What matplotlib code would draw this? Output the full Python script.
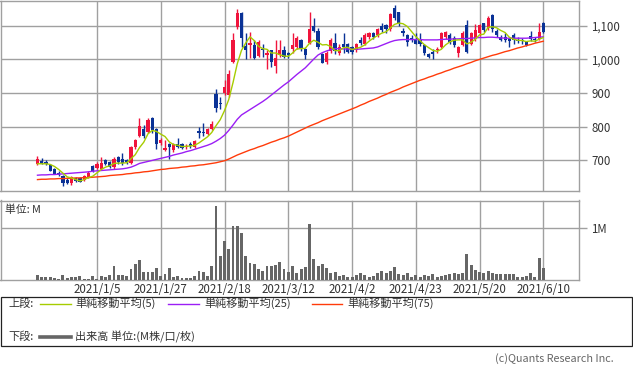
import matplotlib
matplotlib.use("Agg")
import matplotlib.pyplot as plt
from matplotlib.patches import Rectangle
from matplotlib.lines import Line2D
import numpy as np

plt.rcParams['font.family'] = ['Noto Sans CJK JP', 'DejaVu Sans']

# ---------------- data ----------------
date_labels = ["2021/1/5", "2021/1/27", "2021/2/18", "2021/3/12",
               "2021/4/2", "2021/4/23", "2021/5/20", "2021/6/10"]
date_idx = [14, 29, 44, 59, 74, 89, 104, 119]
price_ticks = [700, 800, 900, 1000, 1100]
price_labels = ["700", "800", "900", "1,000", "1,100"]

opens = [689, 699, 696, 687, 674, 663, 653, 641, 632, 648,
         649, 641, 651, 683, 676, 674, 701, 695, 681, 709,
         705, 700, 693, 739, 772, 792, 785, 825, 792, 752,
         731, 748, 731, 750, 748, 739, 749, 741, 786, 784,
         778, 792, 897, 871, 899, 894, 993, 1097, 1138, 1040,
         1044, 1042, 1010, 1032, 1013, 1027, 980, 1013, 1027, 1018,
         1032, 1037, 1057, 1030, 1049, 1099, 1085, 1015, 991, 1026,
         1050, 1018, 1047, 1047, 1037, 1027, 1057, 1047, 1067, 1077,
         1072, 1099, 1101, 1089, 1154, 1141, 1085, 1072, 1065, 1059,
         1057, 1042, 1015, 1022, 1027, 1037, 1067, 1072, 1065, 1018,
         1042, 1101, 1047, 1062, 1077, 1107, 1092, 1131, 1085, 1067,
         1067, 1062, 1072, 1059, 1059, 1052, 1069, 1062, 1062, 1107]
highs = [713, 706, 701, 690, 678, 668, 657, 649, 655, 652,
         652, 657, 668, 685, 695, 710, 705, 699, 711, 713,
         721, 704, 743, 765, 827, 805, 825, 830, 795, 766,
         762, 752, 752, 768, 752, 750, 755, 760, 800, 811,
         797, 817, 911, 887, 939, 970, 1077, 1151, 1140, 1079,
         1082, 1059, 1057, 1047, 1027, 1028, 1059, 1059, 1040, 1022,
         1077, 1070, 1062, 1035, 1141, 1122, 1092, 1018, 1025, 1064,
         1078, 1045, 1079, 1050, 1040, 1050, 1067, 1077, 1080, 1082,
         1094, 1107, 1105, 1137, 1161, 1141, 1092, 1075, 1072, 1077,
         1077, 1045, 1018, 1030, 1037, 1080, 1084, 1079, 1070, 1040,
         1085, 1117, 1082, 1104, 1105, 1109, 1128, 1134, 1090, 1072,
         1077, 1065, 1077, 1067, 1065, 1055, 1085, 1067, 1109, 1112]
lows = [686, 688, 686, 668, 659, 653, 625, 630, 628, 636,
        635, 638, 648, 666, 673, 672, 685, 678, 673, 689,
        685, 690, 690, 735, 770, 768, 782, 782, 733, 745,
        728, 703, 726, 737, 735, 735, 737, 738, 768, 772,
        774, 789, 844, 854, 894, 889, 988, 1089, 1037, 1000,
        1003, 1000, 1008, 1008, 973, 978, 960, 1008, 1003, 1003,
        1018, 1030, 1025, 1000, 1047, 1082, 1030, 988, 987, 1018,
        1015, 1013, 1018, 1018, 1015, 1022, 1042, 1042, 1062, 1060,
        1067, 1082, 1077, 1085, 1117, 1100, 1070, 1040, 1052, 1045,
        1040, 1013, 1003, 1000, 1020, 1035, 1060, 1047, 1037, 1008,
        1040, 1018, 1042, 1055, 1070, 1080, 1087, 1080, 1068, 1055,
        1052, 1037, 1047, 1050, 1047, 1040, 1055, 1052, 1057, 1077]
closes = [704, 689, 689, 669, 661, 657, 634, 634, 652, 639,
          637, 654, 664, 669, 689, 691, 689, 681, 704, 696,
          691, 694, 740, 762, 802, 772, 820, 790, 748, 760,
          738, 740, 748, 741, 738, 744, 742, 758, 780, 780,
          792, 807, 857, 867, 917, 956, 1057, 1138, 1065, 1027,
          1049, 1003, 1052, 1027, 1018, 993, 1005, 1027, 1008, 1013,
          1042, 1065, 1032, 1013, 1089, 1085, 1037, 990, 1018, 1059,
          1025, 1037, 1037, 1022, 1022, 1047, 1050, 1072, 1077, 1067,
          1089, 1087, 1089, 1134, 1122, 1107, 1077, 1052, 1059, 1047,
          1045, 1018, 1008, 1015, 1032, 1077, 1082, 1052, 1042, 1037,
          1077, 1022, 1077, 1087, 1102, 1087, 1122, 1089, 1072, 1059,
          1057, 1055, 1059, 1055, 1055, 1042, 1062, 1057, 1082, 1080]
ma5 = [690, 690, 690, 688, 682, 673, 662, 651, 648, 643,
       639, 643, 649, 653, 663, 673, 680, 684, 691, 692,
       692, 693, 705, 717, 738, 754, 779, 789, 786, 778,
       771, 755, 747, 745, 741, 742, 743, 745, 752, 761,
       770, 783, 803, 821, 848, 881, 931, 987, 1027, 1049,
       1067, 1056, 1039, 1032, 1030, 1019, 1019, 1014, 1010, 1009,
       1019, 1031, 1032, 1033, 1048, 1057, 1051, 1043, 1044, 1038,
       1026, 1026, 1035, 1036, 1029, 1033, 1036, 1043, 1054, 1063,
       1071, 1078, 1082, 1093, 1104, 1108, 1106, 1098, 1083, 1068,
       1056, 1044, 1035, 1027, 1024, 1030, 1043, 1052, 1057, 1058,
       1058, 1046, 1051, 1060, 1073, 1075, 1095, 1097, 1094, 1086,
       1080, 1066, 1060, 1057, 1056, 1053, 1055, 1054, 1060, 1065]
ma25 = [656, 657, 657, 658, 658, 659, 660, 661, 662, 663,
        664, 665, 666, 668, 669, 670, 671, 672, 673, 674,
        675, 677, 680, 685, 691, 694, 697, 700, 703, 706,
        709, 712, 716, 719, 722, 726, 729, 733, 737, 741,
        745, 750, 757, 765, 775, 789, 805, 822, 835, 843,
        851, 859, 867, 875, 884, 894, 904, 914, 924, 933,
        944, 955, 965, 975, 988, 1001, 1013, 1020, 1025, 1029,
        1032, 1032, 1031, 1031, 1030, 1030, 1031, 1032, 1033, 1034,
        1037, 1042, 1047, 1052, 1056, 1058, 1059, 1059, 1059, 1059,
        1059, 1058, 1058, 1058, 1058, 1059, 1060, 1060, 1061, 1061,
        1062, 1062, 1063, 1064, 1065, 1065, 1066, 1066, 1065, 1064,
        1063, 1063, 1063, 1063, 1063, 1063, 1064, 1065, 1066, 1067]
ma75 = [643, 644, 644, 645, 645, 646, 646, 647, 647, 648,
        648, 649, 649, 650, 651, 652, 653, 655, 656, 657,
        658, 660, 661, 663, 664, 666, 667, 669, 671, 673,
        674, 676, 677, 678, 680, 681, 683, 684, 686, 687,
        689, 691, 693, 696, 699, 704, 710, 716, 721, 726,
        731, 735, 740, 744, 749, 754, 758, 763, 767, 772,
        778, 784, 790, 796, 802, 807, 812, 818, 823, 828,
        833, 838, 843, 848, 853, 858, 864, 869, 875, 880,
        885, 891, 896, 902, 907, 912, 918, 923, 928, 933,
        938, 942, 947, 951, 956, 960, 965, 969, 974, 978,
        982, 987, 991, 996, 1000, 1004, 1008, 1012, 1015, 1019,
        1023, 1026, 1030, 1034, 1037, 1041, 1044, 1048, 1051, 1054]
volume_m = [0.10, 0.065, 0.065, 0.06, 0.04, 0.03, 0.10, 0.05, 0.06, 0.06,
            0.08, 0.03, 0.03, 0.08, 0.03, 0.08, 0.065, 0.10, 0.27, 0.10,
            0.10, 0.08, 0.22, 0.31, 0.38, 0.16, 0.16, 0.16, 0.23, 0.085,
            0.12, 0.23, 0.065, 0.08, 0.04, 0.04, 0.04, 0.08, 0.17, 0.16,
            0.085, 0.27, 1.42, 0.47, 0.74, 0.60, 1.03, 1.03, 0.90, 0.47,
            0.33, 0.31, 0.22, 0.18, 0.27, 0.27, 0.29, 0.35, 0.22, 0.155,
            0.27, 0.14, 0.21, 0.25, 1.07, 0.41, 0.27, 0.31, 0.23, 0.14,
            0.155, 0.08, 0.10, 0.06, 0.06, 0.10, 0.14, 0.10, 0.065, 0.08,
            0.14, 0.175, 0.14, 0.175, 0.25, 0.12, 0.10, 0.14, 0.06, 0.10,
            0.06, 0.10, 0.08, 0.12, 0.06, 0.08, 0.10, 0.12, 0.14, 0.12,
            0.14, 0.51, 0.29, 0.19, 0.155, 0.14, 0.175, 0.14, 0.12, 0.12,
            0.12, 0.12, 0.12, 0.06, 0.06, 0.08, 0.14, 0.06, 0.43, 0.23]

legend_top = ["単純移動平均(5)", "単純移動平均(25)", "単純移動平均(75)"]
legend_bottom = "出来高 単位:(M株/口/枚)"

# ---------------- style ----------------
UP = "#f0143c"
DOWN = "#0a3296"
C_MA5 = "#a6cc00"
C_MA25 = "#9b1ef5"
C_MA75 = "#ff3b0a"
GRID = "#a0a0a0"
TXT = "#333333"

W, H = 633, 371
fig = plt.figure(figsize=(W / 100, H / 100), dpi=100)

def fx(px):
    return px / W

def fy(py):
    return 1 - py / H

ax = fig.add_axes([fx(0.5), fy(190.7), fx(578.5), (190.7 - 0.5) / H])
axv = fig.add_axes([fx(0.5), fy(280.3), fx(578.5), (280.3 - 200.5) / H])

n = len(closes)
x = np.arange(n)
o = np.array(opens, float)
c = np.array(closes, float)
hi = np.array(highs, float)
lo = np.array(lows, float)
up = c >= o
cols = np.where(up, UP, DOWN)

# wicks and bodies
ax.vlines(x, lo, hi, colors=cols, linewidth=1.0, zorder=3)
body_bot = np.minimum(o, c)
body_h = np.maximum(np.abs(c - o), 1.5)
ax.bar(x, body_h, bottom=body_bot, width=0.72, color=cols, linewidth=0, zorder=4)

ax.plot(x, ma75, color=C_MA75, lw=1.0, zorder=5)
ax.plot(x, ma25, color=C_MA25, lw=1.0, zorder=5)
ax.plot(x, ma5, color=C_MA5, lw=1.0, zorder=6)

xlim = (-8.7, 127.4)
ax.set_xlim(*xlim)
ax.set_ylim(610, 1175)
ax.set_xticks(date_idx)
ax.set_xticklabels([])
ax.tick_params(axis='x', length=0)
ax.yaxis.tick_right()
ax.set_yticks(price_ticks)
ax.set_yticklabels(price_labels)
ax.tick_params(axis='y', length=6, width=1, color=GRID, labelsize=8.3,
               labelcolor=TXT, pad=3)
ax.grid(True, color=GRID, lw=1.0, zorder=0)
for s in ax.spines.values():
    s.set_color(GRID)
    s.set_linewidth(1.0)

# volume
axv.bar(x, volume_m, width=0.7, color="#666666", linewidth=0, zorder=3)
axv.set_xlim(*xlim)
axv.set_ylim(0, 1.52)
axv.set_xticks(date_idx)
axv.set_xticklabels(date_labels)
axv.tick_params(axis='x', length=0, labelsize=8.3, labelcolor=TXT, pad=2)
axv.yaxis.tick_right()
axv.set_yticks([1.0])
axv.set_yticklabels(["1M"])
axv.tick_params(axis='y', length=6, width=1, color=GRID, labelsize=8.3,
                labelcolor=TXT, pad=3)
axv.grid(True, color=GRID, lw=1.0, zorder=0)
for s in axv.spines.values():
    s.set_color(GRID)
    s.set_linewidth(1.0)
axv.text(0.008, 0.88, "単位: M", transform=axv.transAxes, fontsize=7.8,
         color=TXT, va="center", ha="left")

# legend box
fig.add_artist(Rectangle((fx(0.5), fy(346)), fx(631.5), (346 - 297) / H,
                         transform=fig.transFigure, fill=False,
                         edgecolor="#222222", lw=0.9))
r1 = 303.5
r2 = 336.5
fs = 8.0
fig.text(fx(8), fy(r1), "上段:", fontsize=fs, color=TXT, va="center")
fig.text(fx(8), fy(r2), "下段:", fontsize=fs, color=TXT, va="center")
for (x0, x1, tx, col, lab) in [(40, 71, 75, C_MA5, legend_top[0]),
                               (168, 199, 204, C_MA25, legend_top[1]),
                               (312, 342, 347, C_MA75, legend_top[2])]:
    fig.add_artist(Line2D([fx(x0), fx(x1)], [fy(r1), fy(r1)],
                          transform=fig.transFigure, color=col, lw=1.0))
    fig.text(fx(tx), fy(r1), lab, fontsize=fs, color=TXT, va="center")
fig.add_artist(Line2D([fx(40), fx(71)], [fy(r2), fy(r2)],
                      transform=fig.transFigure, color="#666666", lw=2.6))
fig.text(fx(75), fy(r2), legend_bottom, fontsize=fs, color=TXT, va="center")

fig.text(fx(614), fy(358.5), "(c)Quants Research Inc.", fontsize=7.8,
         color="#666666", va="center", ha="right")

fig.savefig("out.png", dpi=100)
